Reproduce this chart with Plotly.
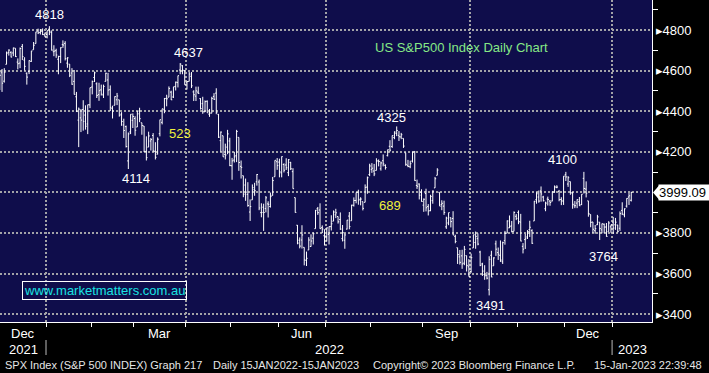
import pandas as pd
import plotly.graph_objects as go

# ---------------- data (SPX daily OHLC, Dec-2021 .. 13-Jan-2023) ----------------
holidays = ["2021-12-24", "2022-01-17", "2022-02-21", "2022-04-15", "2022-05-30",
            "2022-06-20", "2022-07-04", "2022-09-05", "2022-11-24", "2022-12-26",
            "2023-01-02"]

opens = [
    # Dec 2021
    4602, 4504, 4589, 4548, 4631, 4690, 4690, 4687, 4710, 4642, 4637, 4719, 4652, 4587, 4595, 4645, 4703, 4733, 4795, 4788, 4795, 4776,
    # Jan 2022
    4778, 4804, 4788, 4693, 4698, 4656, 4670, 4728, 4734, 4637, 4632, 4588, 4547, 4471, 4356, 4367, 4408, 4381, 4337, 4431,
    # Feb
    4519, 4566, 4535, 4482, 4505, 4480, 4547, 4554, 4506, 4413, 4429, 4456, 4456, 4385, 4332, 4324, 4155, 4298, 4355,
    # Mar
    4364, 4322, 4401, 4343, 4327, 4202, 4223, 4253, 4280, 4202, 4188, 4289, 4345, 4407, 4462, 4469, 4494, 4470, 4522, 4541, 4603, 4624, 4600,
    # Apr
    4540, 4547, 4572, 4495, 4474, 4494, 4462, 4437, 4397, 4449, 4385, 4390, 4473, 4489, 4385, 4255, 4279, 4187, 4223, 4253,
    # May
    4131, 4159, 4181, 4271, 4128, 4082, 4036, 3990, 3903, 3963, 4013, 4052, 4051, 3900, 3927, 3920, 3943, 3930, 3985, 4077, 4151,
    # Jun
    4149, 4096, 4137, 4135, 4097, 4148, 4102, 3974, 3838, 3764, 3765, 3729, 3665, 3716, 3733, 3774, 3821, 3920, 3913, 3826, 3786,
    # Jul
    3782, 3793, 3831, 3858, 3889, 3881, 3866, 3772, 3764, 3819, 3883, 3860, 3936, 3960, 4000, 3966, 3954, 3951, 4026, 4088,
    # Aug
    4113, 4105, 4108, 4155, 4116, 4156, 4133, 4181, 4227, 4226, 4270, 4290, 4281, 4273, 4266, 4195, 4133, 4126, 4154, 4199, 4034, 4041, 4000,
    # Sep
    3937, 3994, 3930, 3910, 3959, 4022, 4084, 4000, 3940, 3932, 3830, 3849, 3875, 3871, 3783, 3727, 3682, 3687, 3651, 3688, 3633,
    # Oct
    3610, 3726, 3753, 3772, 3706, 3647, 3595, 3591, 3520, 3690, 3638, 3746, 3703, 3689, 3658, 3762, 3799, 3825, 3835, 3808, 3882,
    # Nov
    3901, 3853, 3734, 3767, 3780, 3817, 3811, 3859, 3964, 3977, 4007, 3977, 3919, 3967, 3957, 3957, 4000, 4024, 4005, 3965, 3957,
    # Dec
    4087, 4041, 4053, 3996, 3934, 3947, 3954, 3940, 4069, 4016, 3958, 3891, 3854, 3811, 3840, 3853, 3815, 3843, 3829, 3806, 3830,
    # Jan 2023
    3853, 3840, 3839, 3823, 3911, 3889, 3932, 3977, 3961,
]
highs = [
    4652, 4595, 4608, 4612, 4694, 4705, 4695, 4713, 4710, 4660, 4714, 4731, 4666, 4591, 4651, 4697, 4741, 4791, 4807, 4805, 4808, 4787,
    4797, 4819, 4798, 4725, 4708, 4673, 4715, 4749, 4745, 4666, 4632, 4612, 4603, 4495, 4418, 4411, 4454, 4429, 4432, 4516,
    4551, 4595, 4542, 4540, 4531, 4531, 4590, 4589, 4527, 4427, 4473, 4490, 4456, 4395, 4363, 4329, 4295, 4385, 4389,
    4375, 4401, 4417, 4343, 4327, 4276, 4299, 4268, 4292, 4247, 4271, 4358, 4412, 4465, 4481, 4522, 4501, 4520, 4546, 4575, 4637, 4627, 4603,
    4549, 4593, 4593, 4503, 4521, 4521, 4464, 4471, 4453, 4453, 4411, 4471, 4489, 4513, 4386, 4300, 4279, 4240, 4308, 4269,
    4170, 4200, 4308, 4271, 4157, 4082, 4068, 4050, 3965, 4039, 4047, 4090, 4063, 3946, 3944, 3982, 3956, 3999, 4076, 4158, 4169,
    4166, 4177, 4143, 4168, 4164, 4150, 4119, 3974, 3839, 3778, 3838, 3729, 3708, 3779, 3793, 3802, 3913, 3928, 3946, 3837, 3818,
    3827, 3832, 3887, 3911, 3919, 3881, 3901, 3839, 3797, 3864, 3903, 3939, 3975, 3999, 4013, 3976, 3954, 4039, 4078, 4141,
    4144, 4140, 4168, 4162, 4152, 4187, 4138, 4211, 4257, 4280, 4301, 4325, 4302, 4293, 4266, 4195, 4160, 4156, 4200, 4204, 4063, 4044, 4015,
    3970, 4018, 3942, 3988, 4010, 4076, 4119, 4000, 3961, 3959, 3880, 3900, 3876, 3907, 3791, 3727, 3716, 3717, 3736, 3688, 3671,
    3698, 3791, 3807, 3798, 3712, 3653, 3641, 3608, 3685, 3712, 3680, 3762, 3728, 3763, 3757, 3810, 3862, 3886, 3859, 3906, 3893,
    3911, 3894, 3750, 3796, 3814, 3860, 3818, 3958, 4001, 4009, 4029, 3983, 3954, 3979, 3962, 4004, 4034, 4035, 4012, 3976, 4080,
    4101, 4080, 4053, 4002, 3957, 3966, 3977, 3991, 4101, 4054, 3958, 3891, 3854, 3839, 3889, 3853, 3846, 3846, 3849, 3858, 3840,
    3879, 3874, 3840, 3906, 3951, 3921, 3971, 3997, 4003,
]
lows = [
    4510, 4504, 4495, 4541, 4631, 4674, 4665, 4671, 4667, 4606, 4612, 4652, 4600, 4531, 4583, 4643, 4703, 4733, 4780, 4778, 4775, 4766,
    4759, 4775, 4699, 4671, 4663, 4582, 4637, 4712, 4650, 4614, 4568, 4530, 4482, 4396, 4223, 4297, 4304, 4309, 4287, 4415,
    4483, 4544, 4465, 4451, 4477, 4465, 4547, 4477, 4401, 4364, 4429, 4430, 4373, 4328, 4268, 4221, 4115, 4287, 4317,
    4279, 4322, 4346, 4284, 4199, 4157, 4223, 4206, 4200, 4162, 4187, 4276, 4335, 4390, 4424, 4469, 4455, 4465, 4502, 4517, 4582, 4582, 4530,
    4507, 4547, 4514, 4450, 4450, 4485, 4408, 4387, 4396, 4392, 4372, 4390, 4455, 4385, 4268, 4200, 4175, 4162, 4188, 4129,
    4062, 4147, 4149, 4106, 4068, 3976, 3958, 3929, 3859, 3963, 3983, 4033, 3912, 3877, 3810, 3901, 3876, 3925, 3984, 4077, 4111,
    4074, 4074, 4098, 4110, 4080, 4110, 4018, 3900, 3744, 3724, 3723, 3640, 3637, 3716, 3732, 3743, 3821, 3889, 3820, 3799, 3738,
    3758, 3743, 3812, 3858, 3873, 3846, 3815, 3758, 3722, 3817, 3818, 3860, 3930, 3946, 3939, 3936, 3911, 3951, 3993, 4080,
    4096, 4080, 4108, 4128, 4107, 4128, 4112, 4177, 4201, 4219, 4262, 4277, 4253, 4262, 4219, 4131, 4124, 4119, 4147, 4057, 4017, 3965, 3954,
    3904, 3906, 3886, 3907, 3944, 4022, 4084, 3933, 3912, 3889, 3820, 3838, 3827, 3789, 3749, 3647, 3644, 3623, 3641, 3610, 3585,
    3604, 3726, 3722, 3739, 3636, 3588, 3569, 3571, 3492, 3582, 3638, 3687, 3667, 3657, 3647, 3742, 3799, 3824, 3803, 3808, 3863,
    3843, 3759, 3699, 3721, 3770, 3780, 3746, 3859, 3944, 3949, 3954, 3955, 3907, 3935, 3934, 3956, 3998, 4020, 3956, 3937, 3938,
    4056, 4027, 3988, 3919, 3922, 3922, 3933, 3937, 3994, 3975, 3880, 3828, 3800, 3796, 3839, 3765, 3798, 3798, 3781, 3806, 3801,
    3795, 3815, 3802, 3810, 3888, 3877, 3925, 3938, 3955,
]
closes = [
    4513, 4577, 4538, 4591, 4686, 4701, 4667, 4712, 4669, 4634, 4709, 4669, 4621, 4568, 4649, 4697, 4725, 4791, 4786, 4793, 4778, 4766,
    4797, 4794, 4701, 4696, 4677, 4670, 4713, 4726, 4659, 4663, 4577, 4533, 4483, 4398, 4410, 4356, 4350, 4326, 4432, 4516,
    4546, 4589, 4477, 4501, 4484, 4522, 4587, 4504, 4419, 4401, 4472, 4475, 4380, 4349, 4305, 4226, 4288, 4385, 4374,
    4306, 4387, 4363, 4329, 4201, 4171, 4278, 4260, 4204, 4173, 4262, 4358, 4412, 4463, 4461, 4512, 4456, 4520, 4543, 4575, 4632, 4602, 4530,
    4546, 4583, 4525, 4481, 4500, 4488, 4413, 4397, 4447, 4392, 4391, 4463, 4459, 4394, 4272, 4297, 4175, 4184, 4288, 4132,
    4155, 4175, 4300, 4147, 4123, 3991, 4001, 3935, 3930, 4023, 4008, 4088, 3923, 3901, 3901, 3973, 3941, 3979, 4058, 4158, 4132,
    4101, 4176, 4109, 4121, 4161, 4116, 4018, 3901, 3750, 3735, 3790, 3667, 3675, 3765, 3760, 3796, 3912, 3900, 3821, 3819, 3785,
    3825, 3831, 3845, 3903, 3899, 3855, 3819, 3801, 3790, 3863, 3831, 3937, 3960, 3999, 3962, 3967, 3921, 4024, 4072, 4130,
    4119, 4091, 4155, 4152, 4145, 4140, 4122, 4210, 4208, 4280, 4297, 4305, 4274, 4284, 4228, 4138, 4128, 4141, 4199, 4058, 4030, 3986, 3955,
    3966, 3924, 3908, 3980, 4006, 4067, 4110, 3932, 3946, 3901, 3873, 3900, 3856, 3790, 3758, 3693, 3655, 3647, 3719, 3640, 3586,
    3678, 3791, 3783, 3745, 3640, 3612, 3589, 3577, 3670, 3583, 3677, 3720, 3695, 3666, 3752, 3797, 3859, 3831, 3807, 3901, 3872,
    3856, 3760, 3720, 3771, 3807, 3828, 3749, 3956, 3993, 3957, 3992, 3959, 3947, 3965, 3950, 4003, 4027, 4026, 3964, 3958, 4080,
    4076, 4072, 3999, 3941, 3934, 3964, 3934, 3991, 4019, 3996, 3896, 3852, 3818, 3821, 3879, 3822, 3845, 3829, 3783, 3849, 3840,
    3824, 3853, 3808, 3895, 3893, 3919, 3970, 3983, 3999.09,
]

y_tick_values = [3400, 3600, 3800, 4000, 4200, 4400, 4600, 4800]
y_tick_labels = ["3400", "3600", "3800", "", "4200", "4400", "4600", "4800"]  # 4000 hidden by price tag
y_minor_values = [3500, 3700, 3900, 4100, 4300, 4500, 4700, 4900]
month_labels = {3: "Mar", 6: "Jun", 9: "Sep", 12: "Dec"}

# peak / trough labels: (date, price, text, dx, dy)
extreme_labels = [
    ("2022-01-04", 4819, "4818", 0, 12),
    ("2022-03-29", 4637, "4637", 8, 11),
    ("2022-02-24", 4115, "4114", 8, -9),
    ("2022-08-16", 4325, "4325", -5, 9),
    ("2022-10-13", 3492, "3491", 1, -10),
    ("2022-12-01", 4101, "4100", -3, 12),
    ("2022-12-22", 3765, "3764", 4, -16),
]

# ---------------- build ----------------
dates = pd.bdate_range("2021-12-01", "2023-01-13", freq="C", holidays=holidays)
assert len(dates) == len(closes) == len(opens) == len(highs) == len(lows)
xi = list(range(len(dates)))
XMIN, XMAX = 1.1, 290.2
YMIN, YMAX = 3361, 4948

BG = "#0f0d4b"
GRID = "#a3a3a8"
FONT = "Liberation Sans, Arial, sans-serif"

fig = go.Figure(go.Ohlc(
    x=xi, open=opens, high=highs, low=lows, close=closes,
    increasing_line_color="white", decreasing_line_color="white",
    line_width=1, tickwidth=0.5, hoverinfo="skip",
))

# month boundaries
bounds = [i - 0.5 for i in range(1, len(dates)) if dates[i].month != dates[i - 1].month]
qbounds = [b for b in bounds if dates[int(b + 0.5)].month in (1, 4, 7, 10)]
ybounds = [b for b in bounds if dates[int(b + 0.5)].month == 1]

annotations = []
shapes = []

# month labels
ym = sorted(set((d.year, d.month) for d in dates))
for (yy, mm) in ym:
    idxs = [i for i, d in enumerate(dates) if d.year == yy and d.month == mm]
    lo, hi = max(idxs[0] - 0.5, XMIN), min(idxs[-1] + 0.5, XMAX)
    if mm in month_labels:
        annotations.append(dict(x=(lo + hi) / 2, y=0, xref="x", yref="paper", text=month_labels[mm],
                                showarrow=False, xanchor="center", yanchor="middle", yshift=-11,
                                font=dict(size=13, color="white", family=FONT)))
# year labels (centred in the visible span of each year)
for yy in sorted(set(d.year for d in dates)):
    idxs = [i for i, d in enumerate(dates) if d.year == yy]
    lo = max(idxs[0] - 0.5, XMIN)
    hi = XMAX if yy == dates[-1].year else min(idxs[-1] + 0.5, XMAX)
    annotations.append(dict(x=(lo + hi) / 2, y=0, xref="x", yref="paper", text=str(yy),
                            showarrow=False, xanchor="center", yanchor="middle", yshift=-27,
                            font=dict(size=13, color="white", family=FONT)))
for b in ybounds:
    shapes.append(dict(type="line", xref="x", yref="paper", x0=b, x1=b,
                       y0=-18 / 322, y1=-33 / 322, line=dict(color="#bbbbbb", width=1)))

# extreme labels
pos = {d.strftime("%Y-%m-%d"): i for i, d in enumerate(dates)}
for d, p, t, dx, dy in extreme_labels:
    annotations.append(dict(x=pos[d], y=p, xref="x", yref="y", text=t, showarrow=False,
                            xshift=dx, yshift=dy, xanchor="center", yanchor="middle",
                            font=dict(size=13, color="white", family=FONT)))

# range differences (yellow)
annotations.append(dict(x=80.9, y=4292, xref="x", yref="y", text="523", showarrow=False,
                        xanchor="center", font=dict(size=13, color="#f0f03c", family=FONT)))
annotations.append(dict(x=174.0, y=3937, xref="x", yref="y", text="689", showarrow=False,
                        xanchor="center", font=dict(size=13, color="#f0f03c", family=FONT)))

# title
annotations.append(dict(x=461 / 652, y=1 - 47 / 322, xref="paper", yref="paper",
                        text="US S&P500 Index Daily Chart", showarrow=False,
                        xanchor="center", yanchor="middle",
                        font=dict(size=13, color="#86e886", family=FONT)))
# website box
annotations.append(dict(x=104.5 / 652, y=1 - 290.5 / 322, xref="paper", yref="paper",
                        text="www.marketmatters.com.au", showarrow=False,
                        xanchor="center", yanchor="middle",
                        bordercolor="white", borderwidth=1, borderpad=1,
                        font=dict(size=13, color="#19e3e3", family=FONT)))

# last price tag
annotations.append(dict(x=1, y=closes[-1], xref="paper", yref="y", text=f"{closes[-1]:.2f}",
                        showarrow=False, xanchor="left", xshift=6, bgcolor="white",
                        borderpad=0, width=50, align="left",
                        font=dict(size=13, color="black", family=FONT)))
shapes.append(dict(type="path", xref="paper", yref="y", xsizemode="pixel", ysizemode="pixel",
                   xanchor=1, yanchor=closes[-1], path="M 1 0 L 7 7 L 7 -7 Z",
                   fillcolor="white", line=dict(width=0)))

# footer
footer = [
    (3, "SPX Index (S&P 500 INDEX) Graph 217"),
    (211, "Daily 15JAN2022-15JAN2023"),
    (371, "Copyright\u00a9 2023 Bloomberg Finance L.P."),
    (592, "15-Jan-2023 22:39:48"),
]
for fx, ft in footer:
    annotations.append(dict(x=fx / 652, y=0, xref="paper", yref="paper", text=ft, showarrow=False,
                            xanchor="left", yanchor="middle", yshift=-43,
                            font=dict(size=11, color="#e6e6e6", family=FONT)))

fig.update_layout(
    width=709, height=373,
    margin=dict(l=0, r=57, t=0, b=51, autoexpand=False),
    paper_bgcolor="black", plot_bgcolor=BG,
    showlegend=False,
    font=dict(family=FONT, color="white", size=13),
    annotations=annotations, shapes=shapes,
    xaxis=dict(range=[XMIN, XMAX], tickvals=qbounds, ticks="outside", ticklen=4,
               tickcolor="white", showticklabels=False, showgrid=True, gridcolor=GRID,
               griddash="2px,2px", gridwidth=2, showline=True, linecolor="white",
               linewidth=1, zeroline=False, rangeslider=dict(visible=False), automargin=False,
               minor=dict(tickvals=bounds, ticks="outside", ticklen=4, tickcolor="white",
                          showgrid=False)),
    yaxis=dict(side="right", range=[YMIN, YMAX], tickvals=y_tick_values,
               ticktext=[("\u25B8" + t) if t else "" for t in y_tick_labels], ticks="",
               showgrid=True, gridcolor=GRID, griddash="2px,2px", gridwidth=2,
               showline=True, linecolor="white", linewidth=1, zeroline=False, automargin=False,
               tickfont=dict(size=13, color="white", family=FONT),
               minor=dict(tickvals=y_minor_values, ticks="outside", ticklen=5,
                          tickcolor="white", showgrid=False)),
)

fig.write_html("out.html", config={"displayModeBar": False},
               post_script="document.body.style.margin='0';document.body.style.overflow='hidden';")
